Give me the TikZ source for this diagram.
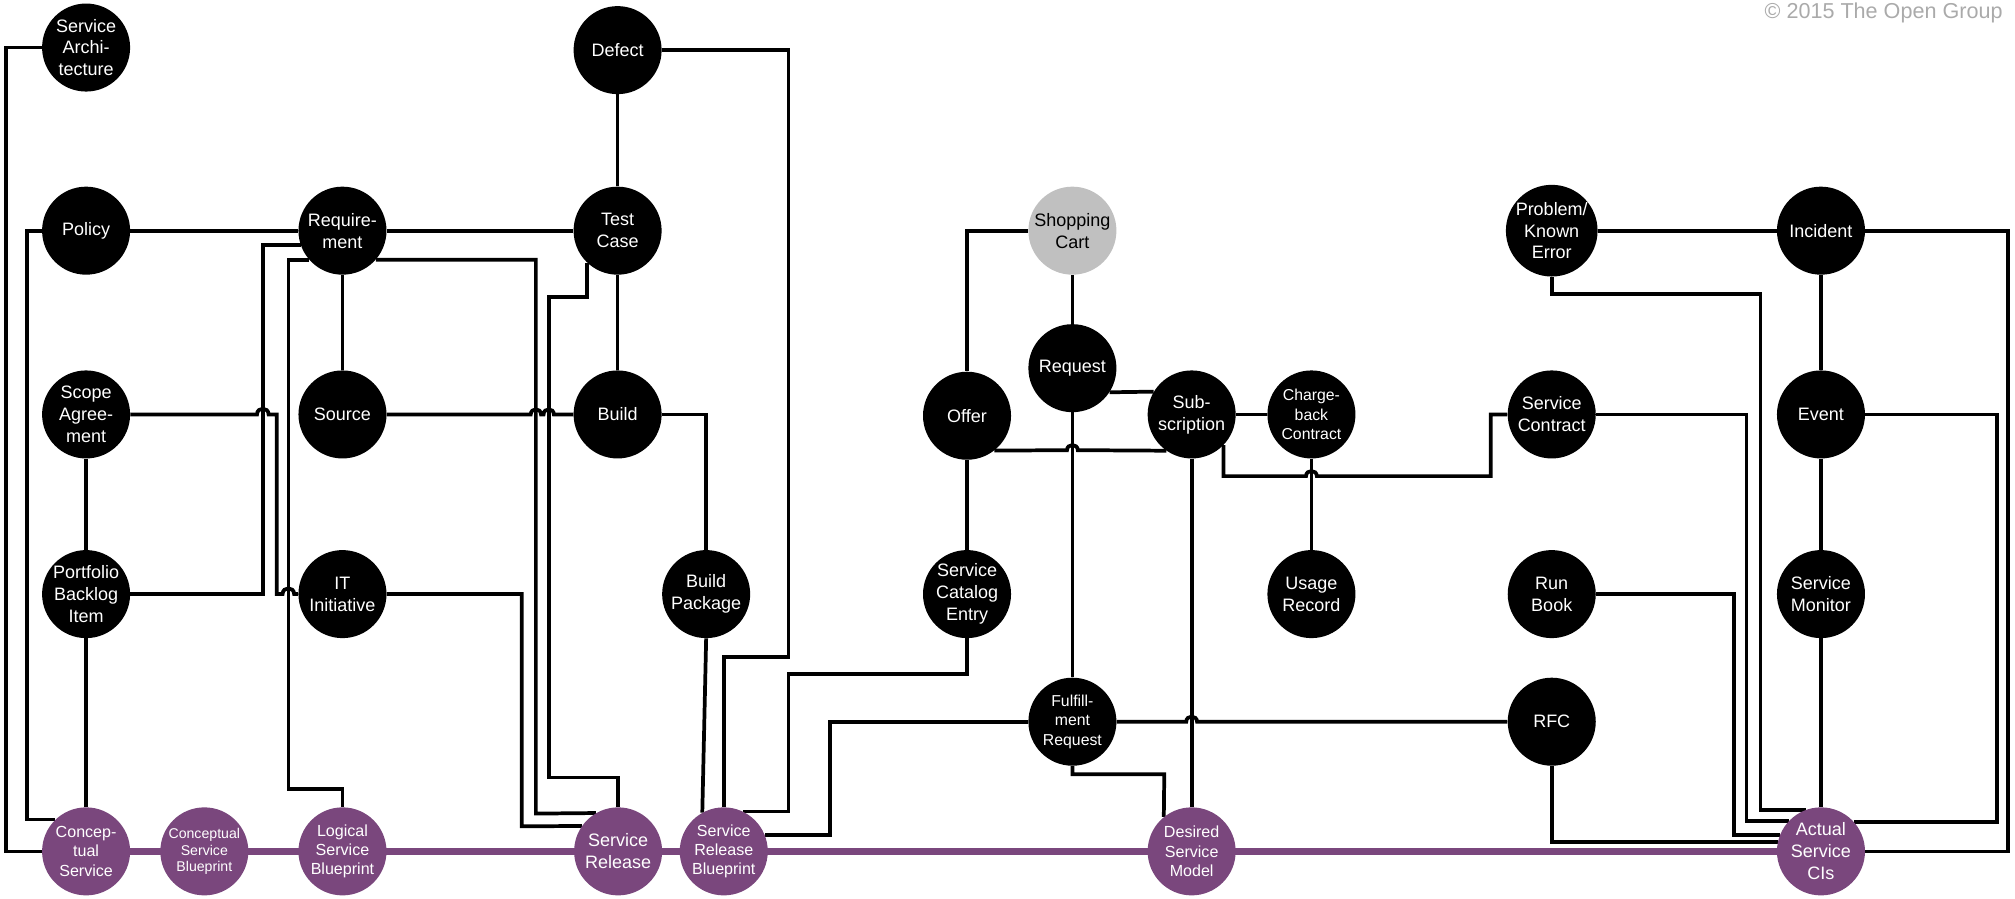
\documentclass[tikz,border=0pt]{standalone}
\usepackage{fontspec}
\setmainfont{Liberation Sans}
\usetikzlibrary{backgrounds}

\definecolor{plum}{RGB}{122,71,125}
\definecolor{cartgray}{RGB}{192,192,192}
\definecolor{notegray}{RGB}{170,170,170}

\tikzset{
  ent/.style={circle, fill=black, text=white, inner sep=0pt, minimum size=68.5pt,
              align=center, font=\fontsize{14}{17}\selectfont},
  entsmall/.style={ent, font=\fontsize{12.3}{15}\selectfont},
  svc/.style={ent, fill=plum, font=\fontsize{12.5}{15}\selectfont},
  svcbig/.style={svc, font=\fontsize{14}{17}\selectfont},
  svctiny/.style={svc, font=\fontsize{11}{13}\selectfont},
  cartnode/.style={ent, fill=cartgray, text=black},
  link/.style={line width=2.9pt, draw=black},
  spine/.style={line width=5.6pt, draw=plum},
}

\begin{document}
\begin{tikzpicture}[x=1pt,y=-1pt]
\useasboundingbox (0,0) rectangle (1568,699);

% ---- entities ----
\node[ent] (sa)      at (67,37)       {Service\\Archi-\\tecture};
\node[ent] (defect)  at (480.6,39)    {Defect};
\node[ent] (policy)  at (67,179.5)    {Policy};
\node[ent] (req)     at (266.5,179.5) {Require-\\ment};
\node[ent] (tc)      at (480.6,179.5) {Test\\Case};
\node[cartnode] (cart) at (834.5,179.5) {Shopping\\Cart};
\node[ent] (prob)    at (1207.5,179.5) {Problem/\\Known\\Error};
\node[ent] (inc)     at (1417,179.5)  {Incident};
\node[ent] (request) at (834.5,286.5) {Request};
\node[ent] (scope)   at (67,322.5)    {Scope\\Agree-\\ment};
\node[ent] (source)  at (266.5,322.5) {Source};
\node[ent] (build)   at (480.6,322.5) {Build};
\node[ent] (offer)   at (752.5,323.5) {Offer};
\node[ent] (sub)     at (927.3,322.5) {Sub-\\scription};
\node[entsmall] (cbc) at (1020.5,322.5) {Charge-\\back\\Contract};
\node[ent] (scon)    at (1207.5,322.5) {Service\\Contract};
\node[ent] (event)   at (1417,322.5)  {Event};
\node[ent] (pbi)     at (67,462.3)    {Portfolio\\Backlog\\Item};
\node[ent] (iti)     at (266.5,462.3) {IT\\Initiative};
\node[ent] (bpkg)    at (549.5,462.3) {Build\\Package};
\node[ent] (sce)     at (752.5,462.3) {Service\\Catalog\\Entry};
\node[ent] (usage)   at (1020.5,462.3) {Usage\\Record};
\node[ent] (runbook) at (1207.5,462.3) {Run\\Book};
\node[ent] (smon)    at (1417,462.3)  {Service\\Monitor};
\node[entsmall] (frq) at (834.5,561.6) {Fulfill-\\ment\\Request};
\node[ent] (rfc)     at (1207.5,561.6) {RFC};

% ---- service lifecycle ----
\node[svc]     (cs)  at (67,662.5)    {Concep-\\tual\\Service};
\node[svctiny] (csb) at (159,662.5)   {Conceptual\\Service\\Blueprint};
\node[svc]     (lsb) at (266.5,662.5) {Logical\\Service\\Blueprint};
\node[svcbig]  (sr)  at (481,662.5)   {Service\\Release};
\node[svc]     (srb) at (563.2,662.5) {Service\\Release\\Blueprint};
\node[svc]     (dsm) at (927.3,662.5) {Desired\\Service\\Model};
\node[svcbig]  (asc) at (1417,662.5)  {Actual\\Service\\CIs};

\node[anchor=base east, inner sep=0pt, text=notegray,
      font=\fontsize{16.8}{19}\selectfont] (copy) at (1558.5,14.5) {© 2015 The Open Group};

\begin{scope}[on background layer]
  \draw[spine] (cs.east) -- (asc.west);

  % left block
  \draw[link] (sa.west) -- (4.5,37) |- (cs.west);
  \draw[link] (policy.west) -- (20.8,179.5) |- (cs.134);
  \draw[link] (scope.south) -- (pbi.north);
  \draw[link] (pbi.south) -- (cs.north);
  \draw[link] (policy.east) -- (req.west);
  \draw[link] (req.east) -- (tc.west);
  \draw[link] (scope.east) -- (200,322.5)
        .. controls (200,316.5) and (209,316.5) .. (209,322.5)
        -- (215.3,322.5) -- (215.3,462.3) -- (219.9,462.3)
        .. controls (219.9,456.3) and (228.9,456.3) .. (228.9,462.3)
        -- (iti.west);
  \draw[link] (pbi.east) -- (204.5,462.3) |- (req.199);
  \draw[link] (req.221) -| (224.4,614) -| (lsb.north);
  \draw[link] (req.south) -- (source.north);
  \draw[link] (req.319) -| (417,633.1) -- (sr.120);
  \draw[link] (iti.east) -| (406,643) -- (sr.145);
  \draw[link] (tc.226) |- (427,231) -- (427,605) -| (sr.north);
  \draw[link] (source.east) -- (413,322.5)
        .. controls (413,317.2) and (421,317.2) .. (421,322.5) -- (423,322.5)
        .. controls (423,317.2) and (431,317.2) .. (431,322.5) -- (build.west);
  \draw[link] (defect.south) -- (tc.north);
  \draw[link] (tc.south) -- (build.north);
  \draw[link] (defect.east) -| (613.5,511.5) -| (srb.north);
  \draw[link] (build.east) -| (bpkg.north);
  \draw[link] (bpkg.south) -- (srb.119);

  % request / offer block
  \draw[link] (sce.south) |- (613.5,524.5) |- (srb.64);
  \draw[link] (frq.west) -- (646,561.6) |- (srb.22);
  \draw[link] (cart.west) -| (offer.north);
  \draw[link] (cart.south) -- (request.north);
  \draw[link] (offer.south) -- (sce.north);
  \draw[link] (request.-33) -- (sub.149);
  \draw[link] (offer.-52) -- (830.3,350.3)
        .. controls (830.3,345) and (838.7,345) .. (838.7,350.3) -- (sub.235);
  \draw[link] (request.south) -- (frq.north);
  \draw[link] (sub.east) -- (cbc.west);
  \draw[link] (sub.south) -- (dsm.north);
  \draw[link] (sub.-44) |- (1016.3,370.5)
        .. controls (1016.3,365.2) and (1024.7,365.2) .. (1024.7,370.5)
        -- (1160,370.5) |- (scon.west);
  \draw[link] (cbc.south) -- (usage.north);
  \draw[link] (frq.east) -- (923.1,561.6)
        .. controls (923.1,556.3) and (931.5,556.3) .. (931.5,561.6) -- (rfc.west);
  \draw[link] (frq.south) |- (906,602.5) -- (dsm.129);

  % operations block
  \draw[link] (prob.east) -- (inc.west);
  \draw[link] (inc.south) -- (event.north);
  \draw[link] (event.south) -- (smon.north);
  \draw[link] (smon.south) -- (asc.north);
  \draw[link] (prob.south) |- (1370,229) |- (asc.110);
  \draw[link] (scon.east) -- (1359,322.5) |- (asc.137);
  \draw[link] (runbook.east) -- (1349.5,462.3) |- (asc.158);
  \draw[link] (rfc.south) |- (asc.168);
  \draw[link] (event.east) -- (1554,322.5) |- (asc.42);
  \draw[link] (inc.east) -- (1562.5,179.5) |- (asc.east);
\end{scope}
\end{tikzpicture}
\end{document}
